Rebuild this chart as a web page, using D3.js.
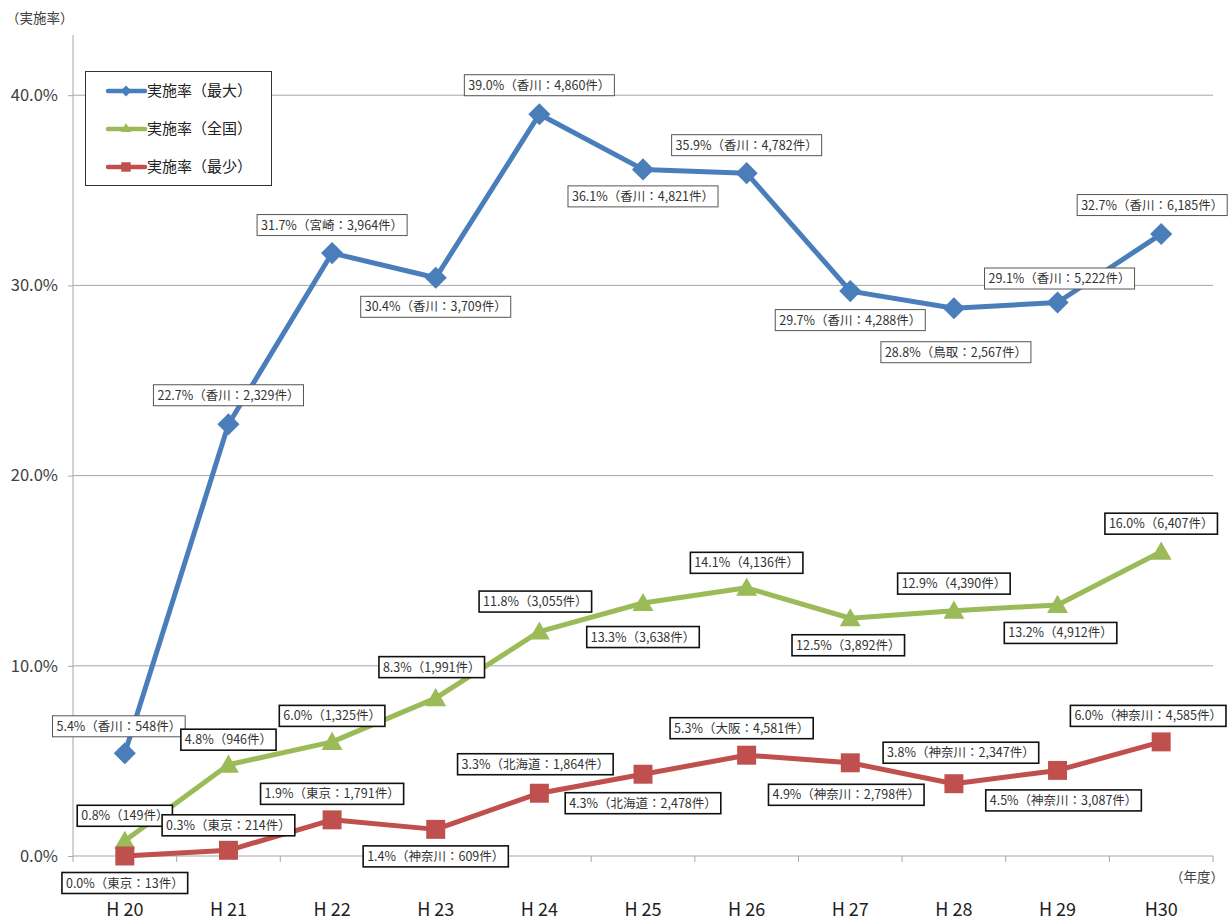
<!DOCTYPE html>
<html>
<head>
<meta charset="utf-8">
<script src="https://cdn.jsdelivr.net/npm/d3@7"></script>
<style>
  body { margin: 0; background: #fff; }
  svg { font-family: "Noto Sans CJK JP", "Noto Sans", sans-serif; }
</style>
</head>
<body>
<div id="chart"></div>
<script>
// data
const years = ["H 20", "H 21", "H 22", "H 23", "H 24", "H 25", "H 26", "H 27", "H 28", "H 29", "H30"];

const maxRate = [5.4, 22.7, 31.7, 30.4, 39.0, 36.1, 35.9, 29.7, 28.8, 29.1, 32.7];
const maxPref = ["香川", "香川", "宮崎", "香川", "香川", "香川", "香川", "香川", "鳥取", "香川", "香川"];
const maxCount = [548, 2329, 3964, 3709, 4860, 4821, 4782, 4288, 2567, 5222, 6185];

const natRate = [0.8, 4.8, 6.0, 8.3, 11.8, 13.3, 14.1, 12.5, 12.9, 13.2, 16.0];
const natCount = [149, 946, 1325, 1991, 3055, 3638, 4136, 3892, 4390, 4912, 6407];

const minRate = [0.0, 0.3, 1.9, 1.4, 3.3, 4.3, 5.3, 4.9, 3.8, 4.5, 6.0];
const minPref = ["東京", "東京", "東京", "神奈川", "北海道", "北海道", "大阪", "神奈川", "神奈川", "神奈川", "神奈川"];
const minCount = [13, 214, 1791, 609, 1864, 2478, 4581, 2798, 2347, 3087, 4585];

const yTicks = [0, 10, 20, 30, 40];

const W = 1232, H = 920;
const margin = { t: 35, r: 19, b: 64, l: 73 };
const y0 = 856; // bottom of plot

// label placement, offset from the point (px): [dx, dy]
const maxNudge = [[-6, -27], [0, -29], [0, -28], [0, 29], [0, -29], [0, 27], [0, -28], [0, 29], [2, 44], [2, -24], [-9, -29]];
const natNudge = [[0, -25], [0, -25], [0, -26], [-4, -31], [-4, -30], [0, 34], [0, -25], [-2, 27], [0, -27], [3, 28], [0, -28]];
const minNudge = [[0, 27], [0, -25], [0, -26], [0, 27], [-4, -29], [0, 29], [-5, -27], [-4, 32], [7, -31], [6, 30], [-13, -26]];

var fmt = d3.format(",");

var scale = {
  x: d3.scaleBand().domain(years).range([margin.l, W - margin.r]),
  y: d3.scaleLinear().domain([0, 40]).range([y0, y0 - 4 * 190.2]),
};
const cx = (i) => scale.x(years[i]) + scale.x.bandwidth() / 2;

var series = [
  { name: "実施率（最大）", rates: maxRate, prefs: maxPref, counts: maxCount, color: "#4A7EBB",
    symbol: "diamond", nudge: maxNudge, border: "#555", borderW: 1 },
  { name: "実施率（全国）", rates: natRate, prefs: null, counts: natCount, color: "#9BBB59",
    symbol: "triangle", nudge: natNudge, border: "#111", borderW: 1.6 },
  { name: "実施率（最少）", rates: minRate, prefs: minPref, counts: minCount, color: "#C0504D",
    symbol: "square", nudge: minNudge, border: "#111", borderW: 1.6 },
];

function markerPath(type, k) {
  if (type === "diamond") return d3.symbol(d3.symbolSquare, 245 * k * k)();
  if (type === "triangle") return d3.symbol(d3.symbolTriangle, 190 * k * k)();
  return d3.symbol(d3.symbolSquare, 360 * k * k)();
}
function markerRot(type) { return type === "diamond" ? " rotate(45)" : ""; }

const svg = d3.select("#chart").append("svg").attr("width", W).attr("height", H);

// gridlines
svg.append("g")
  .selectAll("line")
  .data(yTicks.filter((d) => d > 0))
  .join("line")
  .attr("x1", margin.l).attr("x2", W - margin.r)
  .attr("y1", (d) => scale.y(d)).attr("y2", (d) => scale.y(d))
  .attr("stroke", "#a6a6a6").attr("stroke-width", 1);

// y axis
var yAxis = svg.append("g")
  .attr("transform", "translate(" + margin.l + ",0)")
  .call(d3.axisLeft(scale.y).tickValues(yTicks).tickSize(5).tickPadding(10)
    .tickFormat((d) => d.toFixed(1) + "%"));
yAxis.select(".domain").remove();
yAxis.selectAll(".tick line").attr("stroke", "#a6a6a6");
yAxis.selectAll("text").attr("font-size", 16.5).attr("fill", "#404040")
  .attr("font-family", "'Noto Sans CJK JP', sans-serif");
svg.append("line")
  .attr("x1", margin.l).attr("x2", margin.l)
  .attr("y1", margin.t).attr("y2", y0)
  .attr("stroke", "#a6a6a6");

// x axis
svg.append("line")
  .attr("x1", margin.l).attr("x2", W - margin.r)
  .attr("y1", y0).attr("y2", y0)
  .attr("stroke", "#a6a6a6");
var bounds = years.map((d) => scale.x(d)).concat([W - margin.r]);
svg.append("g").selectAll("line")
  .data(bounds)
  .join("line")
  .attr("x1", (d) => d).attr("x2", (d) => d)
  .attr("y1", y0).attr("y2", y0 + 6)
  .attr("stroke", "#a6a6a6");
svg.append("g").selectAll("text")
  .data(years)
  .join("text")
  .attr("x", (d, i) => cx(i))
  .attr("y", 910)
  .attr("dy", "0.35em")
  .attr("text-anchor", "middle")
  .attr("font-size", 18)
  .attr("fill", "#222")
  .text((d) => d);

// axis titles
svg.append("text").attr("x", 6).attr("y", 18).attr("dy", "0.35em")
  .attr("font-size", 13.5).attr("fill", "#404040").text("（実施率）");
svg.append("text").attr("x", 1224).attr("y", 877).attr("dy", "0.35em")
  .attr("text-anchor", "end")
  .attr("font-size", 13.5).attr("fill", "#404040").text("（年度）");

// lines and markers
series.forEach((s) => {
  var g = svg.append("g");
  g.append("path")
    .datum(s.rates)
    .attr("d", d3.line().x((d, i) => cx(i)).y((d) => scale.y(d)))
    .attr("fill", "none")
    .attr("stroke", s.color)
    .attr("stroke-width", 5)
    .attr("stroke-linejoin", "round");
  g.selectAll("path.mk")
    .data(s.rates)
    .join("path")
    .attr("class", "mk")
    .attr("d", markerPath(s.symbol, 1))
    .attr("transform", (d, i) => "translate(" + cx(i) + "," + (scale.y(d) + (s.symbol === "triangle" ? 2 : 0)) + ")" + markerRot(s.symbol))
    .attr("fill", s.color);
});

// data labels
series.forEach((s) => {
  s.rates.forEach((r, i) => {
    var txt = r.toFixed(1) + "%（" + (s.prefs ? s.prefs[i] + "：" : "") + fmt(s.counts[i]) + "件）";
    var px = cx(i) + s.nudge[i][0];
    var py = scale.y(r) + s.nudge[i][1];
    var g = svg.append("g").attr("transform", "translate(" + px + "," + py + ")");
    var rect = g.append("rect");
    var t = g.append("text")
      .attr("text-anchor", "middle")
      .attr("dy", "0.36em")
      .attr("font-size", 12.5)
      .attr("fill", "#333")
      .text(txt);
    var w = t.node().getComputedTextLength() + 8;
    rect.attr("x", -w / 2).attr("y", -10.5).attr("width", w).attr("height", 21)
      .attr("fill", "#fff")
      .attr("stroke", s.border)
      .attr("stroke-width", s.borderW);
  });
});

// legend
var lg = svg.append("g");
lg.append("rect")
  .attr("x", 85.5).attr("y", 71.5).attr("width", 186).attr("height", 114)
  .attr("fill", "#fff").attr("stroke", "#333").attr("stroke-width", 1);
series.forEach((s, i) => {
  var ly = 91 + i * 38;
  lg.append("line")
    .attr("x1", 108).attr("x2", 145).attr("y1", ly).attr("y2", ly)
    .attr("stroke", s.color).attr("stroke-width", 4.5).attr("stroke-linecap", "round");
  lg.append("path")
    .attr("d", markerPath(s.symbol, 0.5))
    .attr("transform", "translate(126," + ly + ")" + markerRot(s.symbol))
    .attr("fill", s.color);
  lg.append("text")
    .attr("x", 147).attr("y", ly).attr("dy", "0.36em")
    .attr("font-size", 15).attr("fill", "#222")
    .text(s.name);
});
</script>
</body>
</html>
